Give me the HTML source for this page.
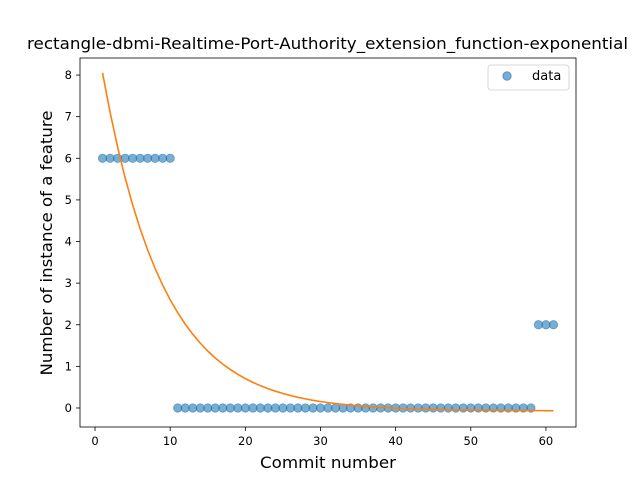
<!DOCTYPE html>
<html><head><meta charset="utf-8"><style>
body{margin:0;background:#fff;font-family:"Liberation Sans","DejaVu Sans",sans-serif}
</style></head><body>
<svg id="chart" width="640" height="480" xmlns="http://www.w3.org/2000/svg" font-family="'DejaVu Sans','Liberation Sans',sans-serif"></svg>
<script>
const commits = [];
for (let i = 1; i <= 61; i++) commits.push(i);
const counts = [6,6,6,6,6,6,6,6,6,6,
0,0,0,0,0,0,0,0,0,0,0,0,0,0,0,0,0,0,0,0,0,0,0,0,0,0,0,0,0,0,0,0,0,0,0,0,0,0,0,0,0,0,0,0,0,0,0,0,
2,2,2];
const fitA = 9.19, fitB = 0.1236, fitC = -0.07;
const xTicks = [0,10,20,30,40,50,60];
const yTicks = [0,1,2,3,4,5,6,7,8];

const L=80,R=576,T=58,B=427;
const xMin=-2,xMax=64,yMin=-0.457,yMax=8.41;
const sx=v=>L+(v-xMin)/(xMax-xMin)*(R-L);
const sy=v=>B-(v-yMin)/(yMax-yMin)*(B-T);
const svg=document.getElementById('chart');
const NS='http://www.w3.org/2000/svg';
function mk(tag,attrs,parent){const e=document.createElementNS(NS,tag);for(const k in attrs)e.setAttribute(k,attrs[k]);(parent||svg).appendChild(e);return e;}

const title=mk('text',{x:(L+R)/2+0,y:49,'text-anchor':'middle','font-size':16,textLength:601,lengthAdjust:'spacingAndGlyphs'});
title.setAttribute('x',27);title.setAttribute('text-anchor','start');
title.textContent='rectangle-dbmi-Realtime-Port-Authority_extension_function-exponential';



xTicks.forEach(t=>{
  const g=mk('g',{});
  
  
  mk('line',{x1:sx(t),x2:sx(t),y1:B,y2:B+4,stroke:'#000','stroke-width':0.8},g);
  const tx=mk('text',{x:sx(t),y:B+18,'text-anchor':'middle','font-size':11.5},g);tx.textContent=t;
});
yTicks.forEach(t=>{
  const g=mk('g',{});
  
  
  mk('line',{x1:L-4,x2:L,y1:sy(t),y2:sy(t),stroke:'#000','stroke-width':0.8},g);
  const tx=mk('text',{x:L-8,y:sy(t)+4,'text-anchor':'end','font-size':11.5},g);tx.textContent=t;
});
const xl=mk('text',{x:260,y:468,'font-size':16,textLength:136,lengthAdjust:'spacingAndGlyphs'});xl.textContent='Commit number';


const yl=mk('text',{x:-133,y:0,'font-size':16,textLength:265,lengthAdjust:'spacingAndGlyphs',transform:`translate(52,${(T+B)/2}) rotate(-90)`});yl.textContent='Number of instance of a feature';



commits.forEach((c,i)=>{
  const p=mk('circle',{cx:sx(c),cy:sy(counts[i]),r:4.2,fill:'#1f77b4','fill-opacity':0.6,stroke:'#1f77b4','stroke-opacity':0.6,'stroke-width':0.8});
  
  
});
const pts=commits.map(c=>sx(c).toFixed(2)+','+sy(fitA*Math.exp(-fitB*c)+fitC).toFixed(2)).join(' ');
const line=mk('polyline',{points:pts,fill:'none',stroke:'#ff7f0e','stroke-width':1.6});



const frame=mk('rect',{x:L,y:T,width:R-L,height:B-T,fill:'none',stroke:'#000','stroke-width':0.8});



const lg=mk('g',{});


mk('rect',{x:488,y:65,width:81,height:25,rx:3,fill:'#fff',stroke:'#ccc','stroke-width':0.8},lg);
mk('circle',{cx:507,cy:76,r:4.2,fill:'#1f77b4','fill-opacity':0.6,stroke:'#1f77b4','stroke-opacity':0.6},lg);
const lt=mk('text',{x:532,y:80,'font-size':13},lg);lt.textContent='data';
</script>
</body></html>
